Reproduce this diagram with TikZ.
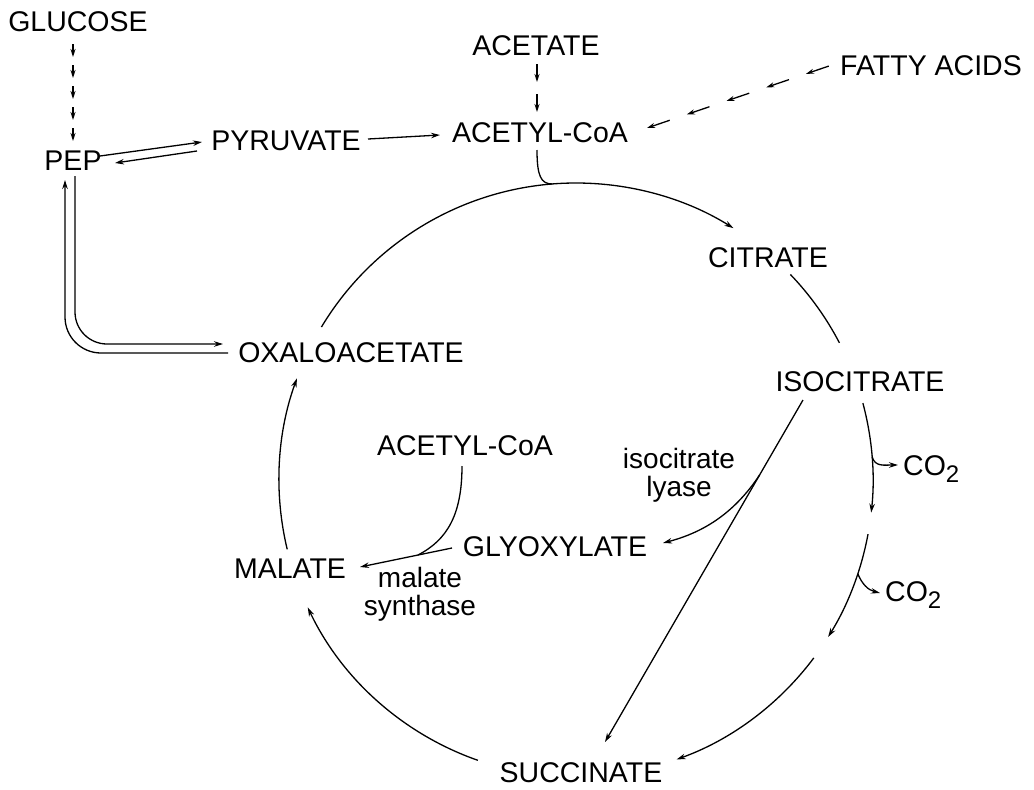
\documentclass[tikz,border=0pt]{standalone}
\usepackage{fontspec}
\setmainfont{Liberation Sans}
\usetikzlibrary{arrows.meta,decorations.markings,calc}

\newcommand\lblfont{\fontsize{28.5}{23}\selectfont}
\newcommand\enzfont{\fontsize{28}{28}\selectfont}
\newcommand\subtwo{\raisebox{-7pt}{\fontsize{24}{24}\selectfont 2}}

\tikzset{
  lbl/.style={font=\lblfont, inner sep=0pt, anchor=base},
  enz/.style={font=\enzfont, inner sep=0pt, align=center},
  ln/.style={line width=1.3pt},
  arr/.style={-{Stealth[length=9pt,width=5.5pt]}},
  % dashed pathway: short dashes, each ending in an arrowhead
  stepped/.style 2 args={decorate, decoration={markings,
    mark=between positions 0 and 1 step #1 with
      {\draw[ln,{Stealth[length=8pt,width=5pt]}-] (0,0) -- (#2,0);}}}
}

\begin{document}
\begin{tikzpicture}[x=1pt,y=-1pt]
\fill[white] (0,0) rectangle (1034,790);
\useasboundingbox (0,0) rectangle (1034,790);

% metabolites and enzymes
\node[lbl] (glucose) at (78,31)   {GLUCOSE};
\node[lbl] (pep)     at (73,170)  {PEP};
\node[lbl] (pyr)     at (286,150) {PYRUVATE};
\node[lbl] (acetate) at (536,55)  {ACETATE};
\node[lbl] (acoa)    at (540,142) {ACETYL-CoA};
\node[lbl] (fatty)   at (931,75)  {FATTY ACIDS};
\node[lbl] (cit)     at (768,267) {CITRATE};
\node[lbl] (oaa)     at (351,362) {OXALOACETATE};
\node[lbl] (icit)    at (860,391) {ISOCITRATE};
\node[lbl] (acoa2)   at (465,455) {ACETYL-CoA};
\node[enz] (icl)     at (679,475) {isocitrate\\lyase};
\node[lbl,anchor=base west] (co2a) at (903,475) {CO\subtwo};
\node[lbl] (glyox)   at (555,556) {GLYOXYLATE};
\node[lbl] (mal)     at (290,578) {MALATE};
\node[enz] (ms)      at (420,594) {malate\\synthase};
\node[lbl,anchor=base west] (co2b) at (885,601) {CO\subtwo};
\node[lbl] (succ)    at (581,782) {SUCCINATE};

% citric acid cycle
\coordinate (C) at (576,480);
\def\R{297}
\coordinate (oaa-out)  at ($(C)+(-149:\R)$);
\coordinate (top-in)   at ($(C)+(-94.6:\R)$);
\coordinate (cit-out)  at ($(C)+(-43.8:\R)$);
\coordinate (icit-out) at ($(C)+(-15:\R)$);
\coordinate (dc1)      at ($(C)+(-4.5:\R)$);
\coordinate (kg-out)   at ($(C)+(10.5:\R)$);
\coordinate (dc2)      at ($(C)+(18.4:\R)$);
\coordinate (sca-out)  at ($(C)+(36.8:\R)$);
\coordinate (succ-out) at ($(C)+(109.3:\R)$);
\coordinate (mal-out)  at ($(C)+(166.5:\R)$);

\draw[ln,arr] (oaa-out)  arc[start angle=-149, end angle=-58, radius=\R];
\draw[ln]     (cit-out)  arc[start angle=-43.8, end angle=-27.5, radius=\R];
\draw[ln,arr] (icit-out) arc[start angle=-15, end angle=6.3, radius=\R];
\draw[ln,arr] (kg-out)   arc[start angle=10.5, end angle=31.9, radius=\R];
\draw[ln,arr] (sca-out)  arc[start angle=36.8, end angle=70.2, radius=\R];
\draw[ln,arr] (succ-out) arc[start angle=109.3, end angle=154.6, radius=\R];
\draw[ln,arr] (mal-out)  arc[start angle=166.5, end angle=200, radius=\R];

% acetyl-CoA entering the cycle
\coordinate (acoa-out) at (537,150);
\draw[ln] (acoa-out) .. controls (537,176) and (541,184) .. (top-in);

% decarboxylations
\coordinate (co2a-in) at (898,465);
\coordinate (co2b-in) at (880,593);
\draw[ln,arr] (dc1) .. controls (875,467) and (884,465) .. (co2a-in);
\draw[ln,arr] (dc2) .. controls (862,584) and (868,590) .. (co2b-in);

% glyoxylate bypass
\coordinate (icl-s)   at (803,400);
\coordinate (icl-e)   at (605,742);
\coordinate (icl-br)  at (759.6,475);
\coordinate (glx-in)  at (663,543);
\coordinate (glx-out) at (452,548);
\coordinate (mal-in)  at (360,567);
\coordinate (ms-join) at (418,555);
\coordinate (acoa2-out) at (462,466);
\draw[ln,arr] (icl-s) -- (icl-e);
\draw[ln,arr] (icl-br) .. controls (735,512) and (705,532) .. (glx-in);
\draw[ln,arr] (glx-out) -- (mal-in);
\draw[ln] (acoa2-out) .. controls (462,515) and (447,540) .. (ms-join);

% entry routes
\coordinate (pep-r1) at (100,156);
\coordinate (pyr-l1) at (202,142);
\coordinate (pyr-l2) at (197,151);
\coordinate (pep-r2) at (115,163);
\draw[ln,arr] (pep-r1) -- (pyr-l1);
\draw[ln,arr] (pyr-l2) -- (pep-r2);

\coordinate (pyr-out) at (368,139);
\coordinate (acoa-in) at (440,135);
\draw[ln,arr] (pyr-out) -- (acoa-in);

\coordinate (pep-down) at (75,176);
\coordinate (oaa-in)   at (223,344);
\coordinate (oaa-back) at (228,353);
\coordinate (pep-up)   at (65,180);
\draw[ln,arr,rounded corners=32pt] (pep-down) -- (pep-down |- oaa-in) -- (oaa-in);
\draw[ln,arr,rounded corners=36pt] (oaa-back) -- (pep-up |- oaa-back) -- (pep-up);

% multi-step routes
\coordinate (glc-in)   at (73,141);
\coordinate (glc-out)  at (73,41);
\coordinate (ac-in)    at (537,112);
\coordinate (ac-out)   at (537,60);
\coordinate (fa-in)    at (647,128);
\coordinate (fa-out)   at (829,66);
\path[stepped={21pt}{13pt}] (glc-in) -- (glc-out);
\path[stepped={30pt}{18pt}] (ac-in) -- (ac-out);
\path[stepped={42pt}{24pt}] (fa-in) -- (fa-out);
\end{tikzpicture}
\end{document}
